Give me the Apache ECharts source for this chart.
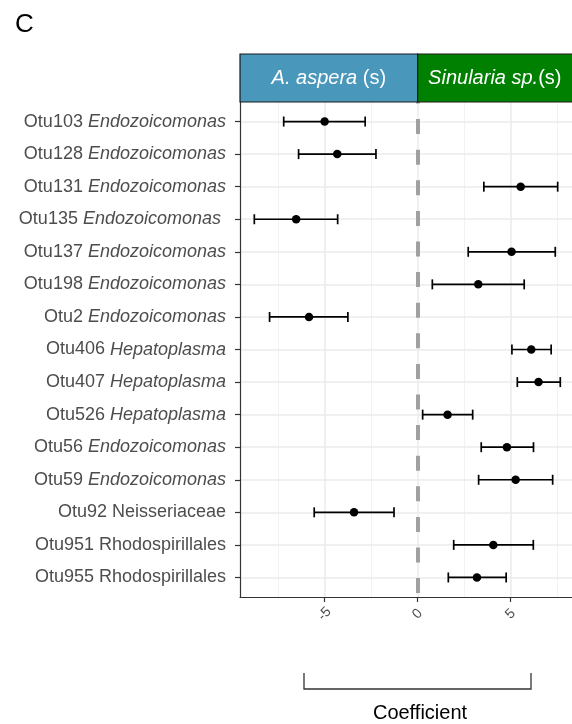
<!DOCTYPE html>
<html>
<head>
<meta charset="utf-8">
<script src="https://cdn.jsdelivr.net/npm/echarts@6/dist/echarts.min.js"></script>
<style>
html, body { margin: 0; padding: 0; background: #fff; }
#chart { width: 572px; height: 724px; }
</style>
</head>
<body>
<div id="chart"></div>
<script>
// dados (de cima para baixo)
var otus = ['Otu103', 'Otu128', 'Otu131', 'Otu135', 'Otu137', 'Otu198', 'Otu2', 'Otu406',
            'Otu407', 'Otu526', 'Otu56', 'Otu59', 'Otu92', 'Otu951', 'Otu955'];
var taxa = ['Endozoicomonas', 'Endozoicomonas', 'Endozoicomonas', 'Endozoicomonas ', 'Endozoicomonas',
            'Endozoicomonas', 'Endozoicomonas', 'Hepatoplasma', 'Hepatoplasma', 'Hepatoplasma',
            'Endozoicomonas', 'Endozoicomonas', 'Neisseriaceae', 'Rhodospirillales', 'Rhodospirillales'];
var italico = [1, 1, 1, 1, 1, 1, 1, 1, 1, 1, 1, 1, 0, 0, 0];
var coef  = [-5.00, -4.32, 5.54, -6.53, 5.05, 3.26, -5.84, 6.11, 6.50, 1.61, 4.80, 5.27, -3.42, 4.07, 3.19];
var lower = [-7.20, -6.40, 3.56, -8.78, 2.72, 0.79, -7.96, 5.07, 5.36, 0.27, 3.42, 3.28, -5.56, 1.94, 1.65];
var upper = [-2.82, -2.24, 7.53, -4.30, 7.40, 5.73, -3.75, 7.18, 7.67, 2.96, 6.23, 7.26, -1.27, 6.22, 4.76];
var ticksX = [-5, 0, 5];
var minorX = [-7.5, -2.5, 2.5, 7.5];
var strips = ['{i|A. aspera} (s)', '{i|Sinularia sp.}(s)'];

var font = '"Liberation Sans", Arial, Helvetica, sans-serif';
var linhas = otus.map(function (o, i) { return i + 1; });
var xMin = -9.55, xMax = 8.3;

function marcas(valores, eixo, cor, largura, tipo) {
    return valores.map(function (v) {
        var d = {};
        d[eixo] = v;
        d.lineStyle = { color: cor, width: largura, type: tipo || 'solid' };
        return d;
    });
}

var chart = echarts.init(document.getElementById('chart'));
var option = {
    animation: false,
    title: {
        text: 'C', left: 10, top: 7,
        textStyle: { fontFamily: font, fontSize: 26, fontWeight: 'normal', color: '#000' }
    },
    grid: { left: 240, right: 0, top: 102, bottom: 127 },
    xAxis: {
        type: 'value', min: xMin, max: xMax, z: 5,
        axisLine: { show: true, onZero: false, lineStyle: { color: '#333', width: 1.2 } },
        axisTick: { show: true, customValues: ticksX, length: 5, lineStyle: { color: '#333', width: 1.2 } },
        axisLabel: {
            customValues: ticksX, rotate: 45, align: 'center', verticalAlign: 'middle', margin: 17,
            color: '#4d4d4d', fontSize: 14, fontFamily: font
        },
        splitLine: { show: false }
    },
    yAxis: {
        type: 'value', inverse: true, min: 0.4, max: 15.6, z: 5,
        axisLine: { show: true, onZero: false, lineStyle: { color: '#333', width: 1.2 } },
        axisTick: { show: true, customValues: linhas, length: 5, lineStyle: { color: '#333', width: 1.2 } },
        axisLabel: {
            customValues: linhas, margin: 14, color: '#4d4d4d', fontSize: 18, fontFamily: font,
            formatter: function (v) {
                var i = Math.round(v) - 1;
                if (i < 0 || i >= otus.length) return '';
                return italico[i] ? otus[i] + ' {i|' + taxa[i] + '}' : otus[i] + ' ' + taxa[i];
            },
            rich: { i: { fontStyle: 'italic', fontSize: 18, color: '#4d4d4d', fontFamily: font } }
        },
        splitLine: { show: false }
    },
    series: [
        {
            // grade do painel
            type: 'scatter', z: 1, silent: true, symbolSize: 0, data: [],
            markLine: {
                z: 1, silent: true, symbol: 'none', label: { show: false }, animation: false,
                data: marcas(minorX, 'xAxis', '#f2f2f2', 1)
                    .concat(marcas(ticksX, 'xAxis', '#ebebeb', 1.5))
                    .concat(marcas(linhas, 'yAxis', '#ebebeb', 1.5))
            }
        },
        {
            // linha tracejada no zero
            type: 'scatter', z: 2, silent: true, symbolSize: 0, data: [],
            markLine: {
                z: 2, silent: true, symbol: 'none', label: { show: false }, animation: false,
                data: [{ xAxis: 0, lineStyle: { color: '#a0a0a0', width: 4, type: [15, 15.6], dashOffset: 13.5 } }]
            }
        },
        {
            // barras de erro
            type: 'custom', z: 3, silent: true,
            data: linhas.map(function (r, i) { return [lower[i], upper[i], r]; }),
            encode: { x: [0, 1], y: 2 },
            renderItem: function (params, api) {
                var a = api.coord([api.value(0), api.value(2)]);
                var b = api.coord([api.value(1), api.value(2)]);
                var h = 5;
                var st = { stroke: '#000', lineWidth: 1.7 };
                return {
                    type: 'group',
                    children: [
                        { type: 'line', shape: { x1: a[0], y1: a[1], x2: b[0], y2: b[1] }, style: st },
                        { type: 'line', shape: { x1: a[0], y1: a[1] - h, x2: a[0], y2: a[1] + h }, style: st },
                        { type: 'line', shape: { x1: b[0], y1: b[1] - h, x2: b[0], y2: b[1] + h }, style: st }
                    ]
                };
            }
        },
        {
            type: 'scatter', z: 4, silent: true, symbol: 'circle', symbolSize: 8.5,
            itemStyle: { color: '#000', opacity: 1 },
            data: linhas.map(function (r, i) { return [coef[i], r]; })
        }
    ]
};
chart.setOption(option);

// faixas do topo e eixo "Coefficient"
var xEsq = chart.convertToPixel({ xAxisIndex: 0 }, xMin);
var xZero = chart.convertToPixel({ xAxisIndex: 0 }, 0);
var xDir = chart.convertToPixel({ xAxisIndex: 0 }, xMax);
var topo = 54, base = 102;
var cores = ['#4997bb', '#008000'];
var limites = [[xEsq, xZero], [xZero, xDir + 2]];
var graficos = [];
limites.forEach(function (l, k) {
    graficos.push({
        type: 'rect', z: 10,
        shape: { x: l[0], y: topo, width: l[1] - l[0], height: base - topo },
        style: { fill: cores[k], stroke: '#1a1a1a', lineWidth: 1.2 }
    });
    graficos.push({
        type: 'text', z: 11,
        x: (l[0] + Math.min(l[1], xDir)) / 2, y: (topo + base) / 2,
        style: {
            text: strips[k], fill: '#fff', font: '20px ' + font,
            align: 'center', verticalAlign: 'middle',
            rich: { i: { fontStyle: 'italic', fontSize: 20, fontFamily: font, fill: '#fff', color: '#fff' } }
        }
    });
});
graficos.push({
    type: 'polyline', z: 10,
    shape: { points: [[304, 673], [304, 689], [531, 689], [531, 673]] },
    style: { stroke: '#333', lineWidth: 1.3, fill: null }
});
graficos.push({
    type: 'text', z: 10, x: 420, y: 713,
    style: { text: 'Coefficient', fill: '#000', font: '20px ' + font, align: 'center', verticalAlign: 'middle' }
});
chart.setOption({ graphic: graficos });
</script>
</body>
</html>
